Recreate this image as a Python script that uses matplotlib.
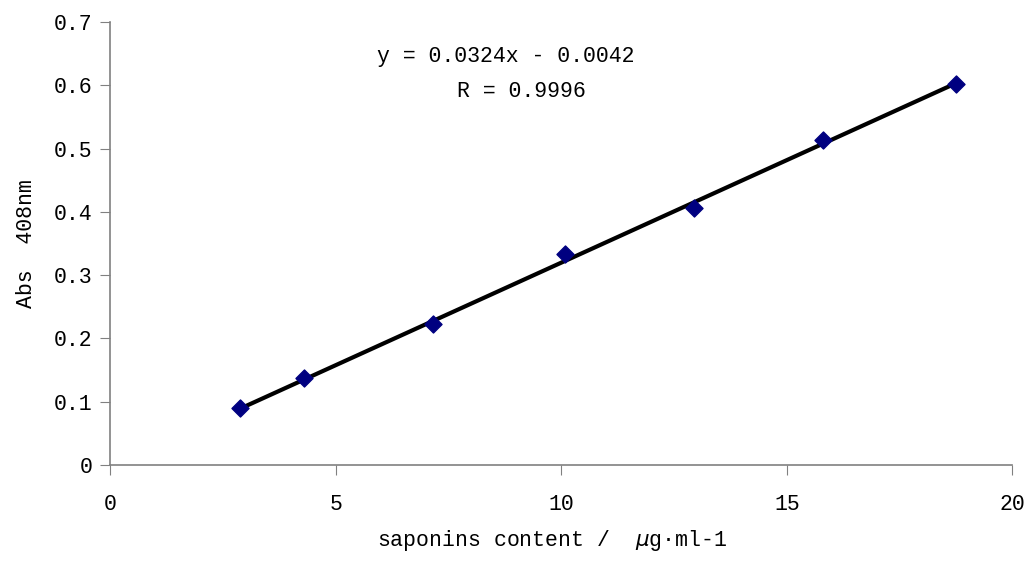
import numpy as np
import matplotlib.pyplot as plt

plt.rcParams['font.family'] = ['Liberation Mono', 'DejaVu Sans']

# data
conc = [2.88, 4.30, 7.16, 10.07, 12.95, 15.79, 18.74]
absorb = [0.090, 0.137, 0.223, 0.333, 0.406, 0.513, 0.602]
slope = 0.0324
intercept = -0.0042
x_ticks = [0, 5, 10, 15, 20]
y_ticks = [0, 0.1, 0.2, 0.3, 0.4, 0.5, 0.6, 0.7]
y_ticklabels = ['0', '0.1', '0.2', '0.3', '0.4', '0.5', '0.6', '0.7']

fig = plt.figure(figsize=(10.3, 5.63), dpi=100)
ax = fig.add_axes([0.107, 0.174, 0.876, 0.787])

x_fit = np.array([conc[0], conc[-1]])
ax.plot(x_fit, slope * x_fit + intercept, color='black', lw=3, zorder=2)
ax.scatter(conc, absorb, marker='D', s=75, color='#000080', zorder=3)

ax.set_xlim(0, 20)
ax.set_ylim(0, 0.7)
ax.set_xticks(x_ticks)
ax.set_xticklabels([str(t) for t in x_ticks])
ax.set_yticks(y_ticks)
ax.set_yticklabels(y_ticklabels)

for s in ['top', 'right']:
    ax.spines[s].set_visible(False)
for s in ['left', 'bottom']:
    ax.spines[s].set_color('#808080')
    ax.spines[s].set_linewidth(1.2)
ax.tick_params(direction='out', length=7, color='#808080', labelsize=15.5)
ax.tick_params(axis='y', pad=6)
ax.tick_params(axis='x', pad=14)

ax.text(0.438, 0.921, 'y = 0.0324x - 0.0042', transform=ax.transAxes,
        ha='center', va='center', fontsize=15.5)
ax.text(0.456, 0.842, 'R = 0.9996', transform=ax.transAxes,
        ha='center', va='center', fontsize=15.5)

ax.set_xlabel('saponins content /  $\\mu$g·ml-1', fontsize=15.5, labelpad=9, x=0.49)
ax.set_ylabel('Abs  408nm', fontsize=15.5, labelpad=12)

fig.savefig('out.png', dpi=100)
